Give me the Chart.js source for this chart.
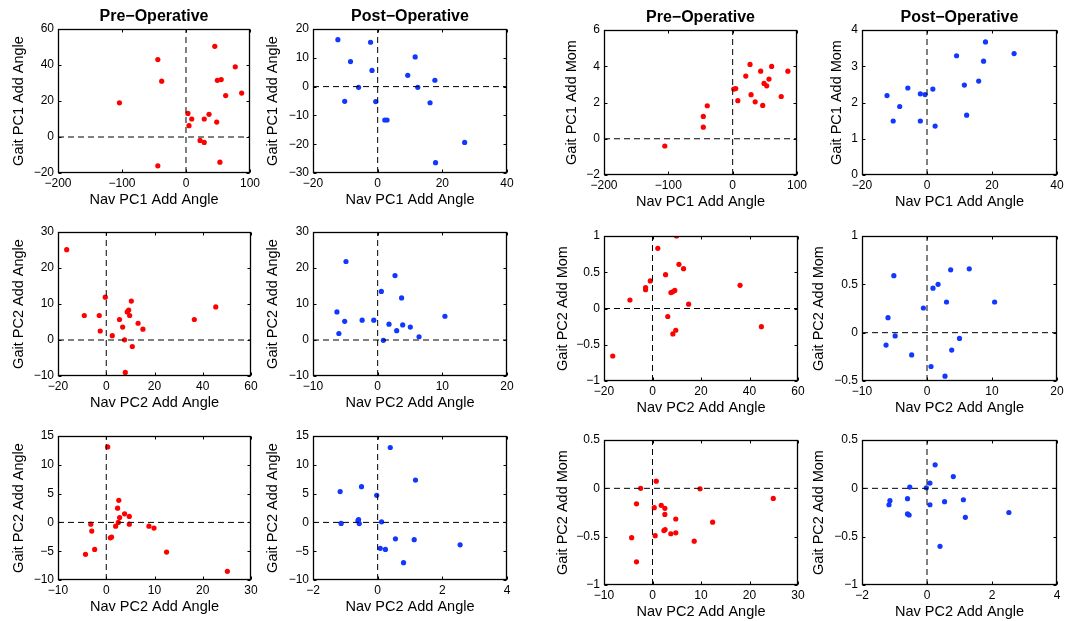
<!DOCTYPE html>
<html>
<head>
<meta charset="utf-8">
<script src="https://cdn.jsdelivr.net/npm/chart.js@4.4.1/dist/chart.umd.min.js"></script>
<style>
    html, body { margin: 0; padding: 0; background: #fff; overflow: hidden; }
    #fig { position: relative; width: 1065px; height: 621px; overflow: hidden; background: #fff; }
    #fig canvas { position: absolute; }
</style>
</head>
<body>
<div id="fig"></div>
<script>
// ---- Data (row by row, left to right) ----

// Row 1: PC1 navigation angle vs gait PC1
const preAngPC1Nav   = [-104, -44, -38, -44, 45, 77, 49, 55, 62, 87, 3, 9, 4.7, 28.5, 36, 48, 22, 28.5, 53];
const preAngPC1Gait  = [19, 43, 31, -16, 50.4, 39, 31.5, 31.9, 23, 24.4, 13.1, 10, 6.3, 10, 12.6, 8.3, -1.9, -3, -14];
const postAngPC1Nav  = [-12.3, -2.2, -8.4, -1.75, -5.9, -10.2, -0.6, 2.2, 2.9, 9.3, 11.6, 12.4, 17.7, 16.2, 26.9, 17.9];
const postAngPC1Gait = [16.3, 15.4, 8.7, 5.6, -0.25, -5.1, -5.2, -11.6, -11.6, 3.9, 10.3, -0.25, 2.2, -5.6, -19.4, -26.4];
const preMomPC1Nav   = [-105.5, -45.6, -45.6, -39.5, 1.7, 4.8, 8, 20.4, 27, 28.6, 35, 43.6, 46.7, 48.8, 52.9, 56.5, 60.6, 75.5, 85.8];
const preMomPC1Gait  = [-0.4, 1.23, 0.64, 1.82, 2.74, 2.77, 2.1, 3.46, 4.1, 2.43, 2.04, 3.73, 1.84, 3.05, 2.92, 3.29, 3.99, 2.33, 3.73];
const postMomPC1Nav  = [-12.3, -10.4, -8.4, -5.9, -2.05, -2.05, -0.6, 1.8, 2.5, 9.1, 11.5, 12.2, 15.9, 17.4, 18, 26.8];
const postMomPC1Gait = [2.19, 1.49, 1.89, 2.4, 2.24, 1.49, 2.22, 2.37, 1.35, 3.29, 2.48, 1.65, 2.59, 3.14, 3.67, 3.35];

// Row 2: PC2 navigation angle vs gait PC2
const preAngPC2Nav   = [-16.4, -9.1, -2.9, -2.5, -0.4, 2.5, 5.5, 6.8, 7.6, 7.9, 8.7, 9.3, 9.7, 10.4, 10.8, 13.2, 15.2, 36.5, 45.4];
const preAngPC2Gait  = [25.1, 6.8, 6.8, 2.5, 11.9, 1.2, 5.7, 3.6, 0.06, -9.0, 7.8, 8.3, 6.8, 10.8, -1.8, 4.65, 3.0, 5.7, 9.2];
const postAngPC2Nav  = [-6.3, -6.0, -5.1, -4.9, -2.4, -0.6, 0.57, 0.88, 1.75, 2.68, 2.94, 3.7, 3.87, 5.05, 6.4, 10.4];
const postAngPC2Gait = [7.8, 1.8, 5.2, 21.8, 5.5, 5.5, 13.5, -0.1, 4.4, 17.9, 2.6, 11.7, 4.2, 3.6, 0.9, 6.6];
const preMomPC2Nav   = [-16.4, -9.3, -2.85, -2.85, -0.9, 2.2, 5.4, 6.3, 7.6, 8.3, 8.4, 9.2, 9.6, 9.9, 10.9, 12.8, 14.9, 36.1, 44.9];
const preMomPC2Gait  = [-0.655, 0.117, 0.29, 0.26, 0.38, 0.83, 0.467, -0.11, 0.22, 0.23, -0.35, 0.25, -0.3, 1.0, 0.61, 0.55, 0.06, 0.32, -0.25];
const postMomPC2Nav  = [-6.3, -6.0, -5.1, -4.9, -2.36, -0.56, 0.62, 0.92, 1.7, 2.77, 3.0, 3.64, 3.8, 5.0, 6.5, 10.4];
const postMomPC2Gait = [-0.128, 0.155, 0.59, -0.034, -0.23, 0.255, -0.35, 0.46, 0.5, -0.45, 0.317, 0.65, -0.18, -0.06, 0.66, 0.317];

// Row 3: second PC2 comparison
const preAng3Nav   = [-4.3, -3.2, -3.0, -2.4, 0.3, 0.84, 1.1, 1.95, 2.35, 2.5, 2.6, 2.77, 3.8, 4.78, 4.78, 8.85, 9.9, 12.5, 25.1];
const preAng3Gait  = [-5.55, -0.3, -1.5, -4.7, 13.1, -2.67, -2.55, -0.65, 2.47, 0, 3.84, 0.85, 1.49, 1.03, -0.3, -0.65, -0.99, -5.15, -8.5];
const postAng3Nav  = [-1.16, -1.13, -0.61, -0.59, -0.57, -0.5, -0.03, 0.12, 0.08, 0.24, 0.39, 0.55, 0.8, 1.13, 1.17, 2.55];
const postAng3Gait = [5.35, -0.18, 0.3, 0.5, -0.2, 6.2, 4.7, 0.1, -4.5, -4.7, 13.0, -2.85, -7.0, -3.0, 7.35, -3.9];
const preMom3Nav   = [-4.3, -3.3, -3.3, -2.45, 0.36, 0.56, 0.77, 1.8, 2.55, 2.55, 2.35, 2.6, 3.77, 4.8, 4.8, 8.6, 9.8, 12.4, 24.9];
const preMom3Gait  = [-0.51, -0.16, -0.76, 0.0, -0.2, -0.49, 0.074, -0.176, -0.207, -0.27, -0.437, -0.427, -0.47, -0.317, -0.46, -0.547, -0.005, -0.35, -0.104];
const postMom3Nav  = [-1.17, -1.14, -0.6, -0.6, -0.55, -0.53, -0.02, 0.09, 0.09, 0.25, 0.4, 0.54, 0.81, 1.12, 1.18, 2.52];
const postMom3Gait = [-0.17, -0.128, -0.107, -0.265, -0.276, 0.013, 0.006, 0.054, -0.17, 0.243, -0.6, -0.138, 0.122, -0.118, -0.3, -0.25];

const navSeries  = [preAngPC1Nav, postAngPC1Nav, preMomPC1Nav, postMomPC1Nav,
                    preAngPC2Nav, postAngPC2Nav, preMomPC2Nav, postMomPC2Nav,
                    preAng3Nav, postAng3Nav, preMom3Nav, postMom3Nav];
const gaitSeries = [preAngPC1Gait, postAngPC1Gait, preMomPC1Gait, postMomPC1Gait,
                    preAngPC2Gait, postAngPC2Gait, preMomPC2Gait, postMomPC2Gait,
                    preAng3Gait, postAng3Gait, preMom3Gait, postMom3Gait];

// Axis limits and tick steps per panel
const xMin  = [-200, -20, -200, -20,  -20, -10, -20, -10,  -10, -2, -10, -2];
const xMax  = [ 100,  40,  100,  40,   60,  20,  60,  20,   30,  4,  30,  4];
const xStep = [ 100,  20,  100,  20,   20,  10,  20,  10,   10,  2,  10,  2];
const yMin  = [ -20, -30,   -2,   0,  -10, -10,  -1, -0.5, -10, -10, -1, -1];
const yMax  = [  60,  20,    6,   4,   30,  30,   1,  1,    15,  15, 0.5, 0.5];
const yStep = [  20,  10,    2,   1,   10,  10, 0.5, 0.5,    5,   5, 0.5, 0.5];

// Text
const colTitles = ["Pre\u2212Operative", "Post\u2212Operative", "Pre\u2212Operative", "Post\u2212Operative"];
const xTitles = ["Nav PC1 Add Angle", "Nav PC2 Add Angle", "Nav PC2 Add Angle"];
const yTitles = [
    ["Gait PC1 Add Angle", "Gait PC1 Add Angle", "Gait PC1 Add Mom", "Gait PC1 Add Mom"],
    ["Gait PC2 Add Angle", "Gait PC2 Add Angle", "Gait PC2 Add Mom", "Gait PC2 Add Mom"],
    ["Gait PC2 Add Angle", "Gait PC2 Add Angle", "Gait PC2 Add Mom", "Gait PC2 Add Mom"]
];

// ---- Layout (pixel placement of each plot box) ----
const plotLeft = [58, 313, 604, 862];
const plotW    = [193, 194, 194, 195];
const plotTopLeftPair  = [29, 232, 436];
const plotTopRightPair = [30, 236, 440];
const yTitleGap = [39.5, 40, 32.3, 25,  39.5, 40, 40.7, 42.7,  39.5, 40, 40.7, 42.7];
const YW = 52, XH = 40, TOP = 30, PADR = 12, TICK = 3;

Chart.defaults.font.family = "'Liberation Sans', Arial, Helvetica, sans-serif";
Chart.defaults.color = "#000";

function fmtTick(v) {
    return String(+v.toFixed(2)).replace("-", "\u2212");
}

// Box around the axes plus inward tick marks, MATLAB style
const boxAxes = {
    id: "boxAxes",
    afterDraw(chart) {
        const { ctx, chartArea: a, scales: { x, y } } = chart;
        const L = Math.round(a.left) + 0.5, R = Math.round(a.right) - 0.5;
        const T = Math.round(a.top) + 0.5, B = Math.round(a.bottom) - 0.5;
        ctx.save();
        ctx.strokeStyle = "#000";
        ctx.lineWidth = 1;
        ctx.beginPath();
        x.ticks.forEach(t => {
            const px = Math.round(x.getPixelForValue(t.value)) + 0.5;
            ctx.moveTo(px, B); ctx.lineTo(px, B - TICK);
            ctx.moveTo(px, T); ctx.lineTo(px, T + TICK);
        });
        y.ticks.forEach(t => {
            const py = Math.round(y.getPixelForValue(t.value)) + 0.5;
            ctx.moveTo(L, py); ctx.lineTo(L + TICK, py);
            ctx.moveTo(R, py); ctx.lineTo(R - TICK, py);
        });
        ctx.stroke();
        ctx.lineWidth = 1.3;
        ctx.strokeRect(L, T, R - L, B - T);
        ctx.restore();
    }
};

function createPanel(i) {
    const row = Math.floor(i / 4), col = i % 4;
    const hasTitle = row === 0;
    const top = (col < 2 ? plotTopLeftPair : plotTopRightPair)[row];
    const plotH = col < 2 ? 144 : 145;
    const color = col % 2 === 0 ? "#ff0000" : "#1238ff";

    const canvas = document.createElement("canvas");
    const w = YW + plotW[col] + PADR, h = TOP + plotH + XH;
    canvas.width = w; canvas.height = h;
    canvas.style.width = w + "px"; canvas.style.height = h + "px";
    canvas.style.left = (plotLeft[col] - YW) + "px";
    canvas.style.top = (top - TOP) + "px";
    document.getElementById("fig").appendChild(canvas);

    const points = navSeries[i].map((v, k) => ({ x: v, y: gaitSeries[i][k] }));
    const dash = { borderColor: "#000", borderWidth: 1, borderDash: [6, 4], pointRadius: 0, showLine: true, fill: false };

    new Chart(canvas.getContext("2d"), {
        type: "scatter",
        data: {
            datasets: [
                Object.assign({ data: [{ x: xMin[i], y: 0 }, { x: xMax[i], y: 0 }] }, dash),
                Object.assign({ data: [{ x: 0, y: yMin[i] }, { x: 0, y: yMax[i] }] }, dash),
                {
                    data: points,
                    backgroundColor: color,
                    borderWidth: 0,
                    pointRadius: 2.6,
                    pointHoverRadius: 2.6
                }
            ]
        },
        options: {
            responsive: false,
            animation: false,
            devicePixelRatio: 1,
            events: [],
            layout: { padding: { top: hasTitle ? TOP - 22.2 : TOP, right: PADR, bottom: 0, left: 0 } },
            plugins: {
                legend: { display: false },
                tooltip: { enabled: false },
                title: {
                    display: hasTitle,
                    text: colTitles[col],
                    fullSize: false,
                    color: "#000",
                    font: { size: 16, weight: "bold" },
                    padding: { top: 0, bottom: 3 }
                }
            },
            scales: {
                x: {
                    type: "linear",
                    min: xMin[i], max: xMax[i],
                    grid: { display: false, drawTicks: false },
                    border: { display: false },
                    ticks: { stepSize: xStep[i], padding: 3, maxRotation: 0, autoSkip: false,
                             color: "#000", font: { size: 12 }, callback: fmtTick },
                    title: { display: true, text: xTitles[row], color: "#000",
                             font: { size: 14.5 }, padding: { top: 0, bottom: 4.3 } },
                    afterFit: s => { s.height = XH; }
                },
                y: {
                    type: "linear",
                    min: yMin[i], max: yMax[i],
                    grid: { display: false, drawTicks: false },
                    border: { display: false },
                    ticks: { stepSize: yStep[i], padding: 4, autoSkip: false,
                             color: "#000", font: { size: 12 }, callback: fmtTick },
                    title: { display: true, text: yTitles[row][col], color: "#000",
                             font: { size: 14.5 }, padding: { top: YW - 8.7 - yTitleGap[i], bottom: 0 } },
                    afterFit: s => { s.width = YW; }
                }
            }
        },
        plugins: [boxAxes]
    });
}

for (let i = 0; i < 12; i++) createPanel(i);
</script>
</body>
</html>
